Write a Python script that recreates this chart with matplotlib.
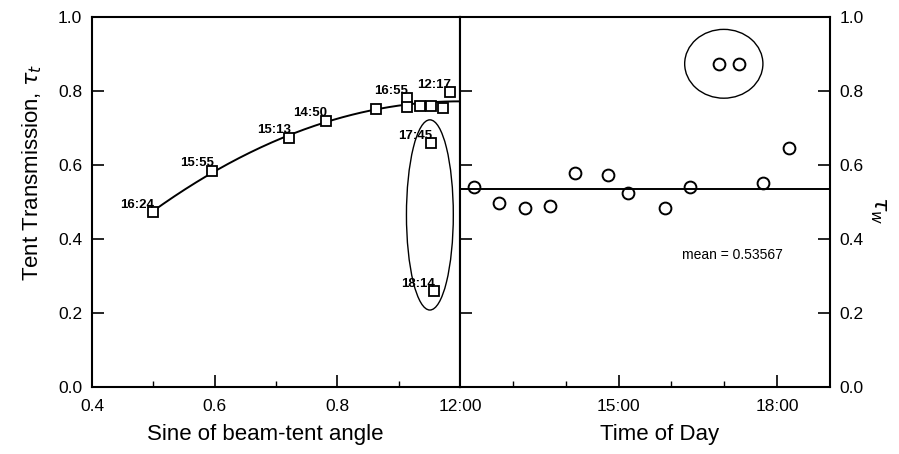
import numpy as np
import matplotlib
matplotlib.use('Agg')
import matplotlib.pyplot as plt
from matplotlib.patches import Ellipse

plt.rcParams['font.family']=['Liberation Sans','DejaVu Sans']

#------------------------------------------------tent transmission vs sine
sine_angle=[0.499,0.596,0.722,0.782,0.863,0.913,0.913,0.935,0.953,0.973,0.984,0.953,0.957]
tau_t=[0.472,0.585,0.674,0.720,0.751,0.780,0.758,0.759,0.759,0.753,0.796,0.660,0.259]
time_lbl=['16:24','15:55','15:13','14:50','','16:55','','','','','12:17','17:45','18:14']
nfit=11             #---last two points are left out of the fit

#------------------------------------------------------tau_w vs time of day
hour=[12.26,12.74,13.22,13.70,14.18,14.80,15.18,15.88,16.36,16.89,17.28,17.73,18.22]
tau_w=[0.540,0.498,0.484,0.490,0.578,0.573,0.525,0.484,0.540,0.872,0.873,0.550,0.647]
tau_w_mean=0.53567

hour_ticks=[12,15,18]
hour_lbl=['12:00','15:00','18:00']

fig=plt.figure(figsize=(8.99,4.54),dpi=100)
ax1=fig.add_axes([0.1023,0.1476,0.4093,0.815])
ax2=fig.add_axes([0.5117,0.1476,0.4116,0.815])

lw=1.5
for ax in (ax1,ax2):
    for s in ax.spines.values():
        s.set_linewidth(lw)
    ax.set_ylim(0,1)
    ax.set_yticks(np.arange(0,1.01,0.2))
    ax.yaxis.set_major_formatter(plt.FormatStrFormatter('%.1f'))
    ax.tick_params(which='major',direction='in',length=8.5,width=1.2,labelsize=12.5)
    ax.tick_params(which='minor',direction='in',length=4.5,width=1.0)
    ax.tick_params(axis='x',pad=9)
    ax.tick_params(axis='y',pad=7)

#==============================================================left panel
x=np.array(sine_angle)
y=np.array(tau_t)
c=np.polyfit(x[:nfit],y[:nfit],2)
xf=np.linspace(x.min(),1.0,200)
ax1.plot(xf,np.polyval(c,xf),color='black',linewidth=1.4)
ax1.plot(x,y,'s',markersize=7.5,markerfacecolor='white',markeredgecolor='black',markeredgewidth=1.3)

for xi,yi,t in zip(x,y,time_lbl):
    if t:
        ax1.annotate(t,(xi,yi),xytext=(1,3),textcoords='offset points',
                     ha='right',va='baseline',fontsize=9.5,fontweight='bold')

ax1.add_patch(Ellipse((0.951,0.465),0.0764,0.514,fill=False,edgecolor='black',linewidth=1.0))

ax1.set_xlim(0.4,1.0)
ax1.set_xticks([0.4,0.6,0.8])
ax1.set_xticks([0.5,0.7,0.9],minor=True)
ax1.tick_params(axis='y',left=True,right=False)
ax1.tick_params(axis='x',top=False,which='both')
ax1.set_xlabel('Sine of beam-tent angle',fontsize=16)
ax1.xaxis.set_label_coords(0.47,-0.10)
ax1.set_ylabel(r'Tent Transmission, $\tau_t$',fontsize=16)
ax1.yaxis.set_label_coords(-0.13,0.58)

#=============================================================right panel
ax2.plot(hour,tau_w,'o',markersize=8.5,markerfacecolor='white',markeredgecolor='black',markeredgewidth=1.4)
ax2.axhline(tau_w_mean,color='black',linewidth=1.4)
ax2.text(17.16,0.357,'mean = %.5f'%tau_w_mean,ha='center',va='center',fontsize=10)
ax2.add_patch(Ellipse((16.99,0.8735),1.48,0.186,fill=False,edgecolor='black',linewidth=1.0))

ax2.set_xlim(12,19)
ax2.set_xticks(hour_ticks)
ax2.set_xticklabels(hour_lbl)
ax2.set_xticks([13,14,16,17],minor=True)
ax2.tick_params(axis='x',top=False,which='both')
ax2.tick_params(axis='y',left=True,right=True,labelleft=False,labelright=True)
ax2.set_xlabel('Time of Day',fontsize=16)
ax2.xaxis.set_label_coords(0.538,-0.10)
ax2.yaxis.set_label_position('right')
ax2.set_ylabel(r'$\tau_w$',fontsize=16,rotation=270)
ax2.yaxis.set_label_coords(1.16,0.478)

plt.savefig('out.png',dpi=100)
